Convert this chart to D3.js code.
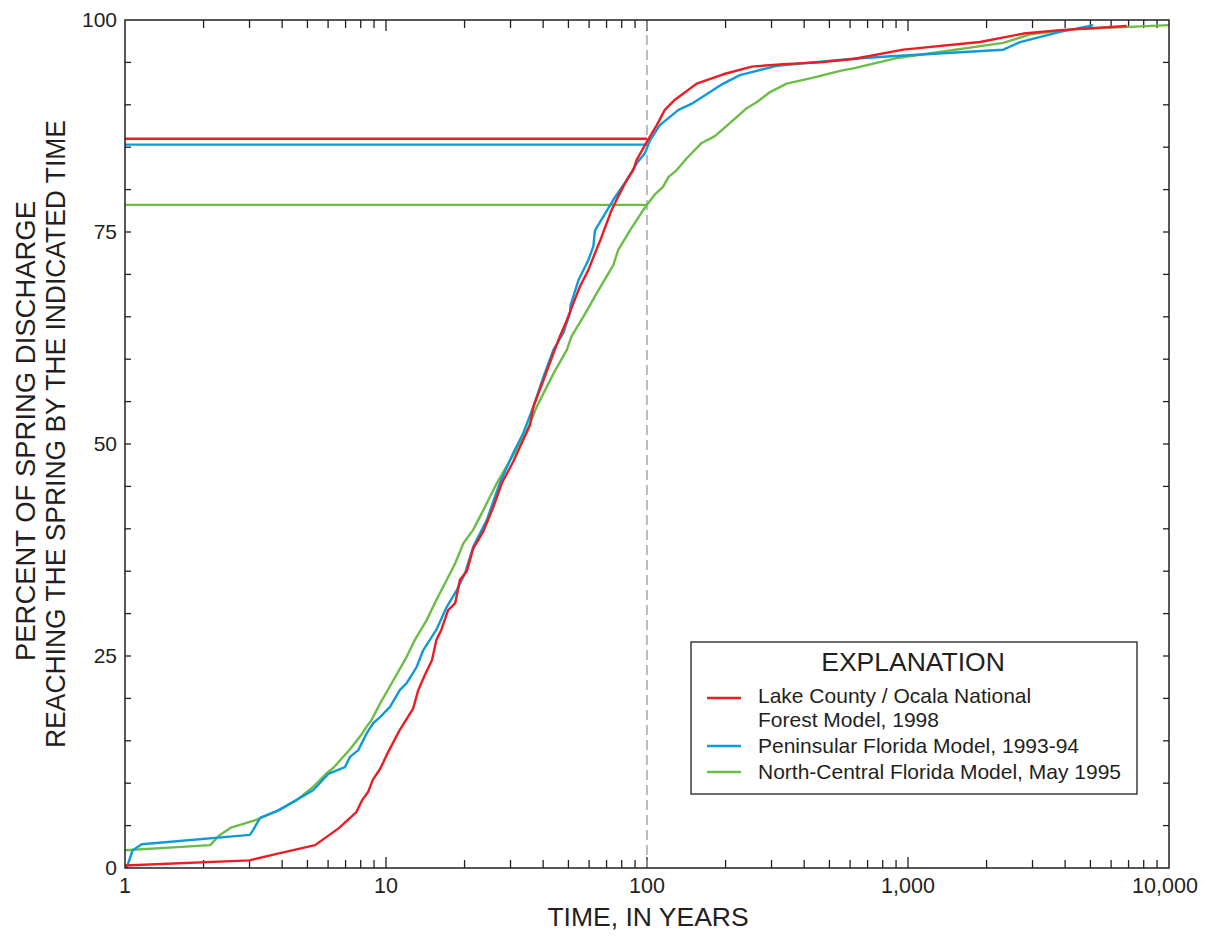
<!DOCTYPE html>
<html>
<head>
<meta charset="utf-8">
<script src="https://cdn.jsdelivr.net/npm/d3@7"></script>
<style>
  html, body { margin: 0; padding: 0; background: #fff; }
  svg { display: block; font-family: "Liberation Sans", Arial, sans-serif; }
</style>
</head>
<body>
<div id="chart"></div>
<script>
// Series values: [years, percent]
const lakeCounty = [
  [1, 0.3], [3.0, 0.9], [3.85, 1.7], [5.35, 2.7], [6.6, 4.7], [7.7, 6.6], [8.1, 8.0],
  [8.55, 9.0], [8.9, 10.4], [9.5, 11.7], [10.2, 13.7], [11.3, 16.3], [12.7, 18.8],
  [13.3, 21.0], [14.1, 22.8], [15.0, 24.5], [15.6, 26.9], [16.3, 28.1], [17.3, 30.4],
  [18.4, 31.2], [19.2, 34.0], [20.4, 35.0], [21.6, 37.7], [23.6, 39.7], [25.8, 42.6],
  [27.8, 45.4], [30.7, 47.9], [33.1, 50.1], [35.6, 52.2], [36.7, 54.4], [40.1, 57.5],
  [43.8, 60.7], [46.4, 62.7], [49.3, 64.6], [52.2, 66.6], [55.4, 68.6], [59.6, 70.5],
  [63.2, 72.5], [66.0, 73.9], [70.0, 76.0], [73.2, 77.6], [76.5, 78.8], [80, 80.0],
  [83.6, 81.1], [88.6, 82.3], [91.3, 83.5], [99.7, 85.6], [109, 87.6], [117, 89.4],
  [128, 90.6], [155, 92.5], [196, 93.6], [252, 94.5], [333, 94.8], [460, 95.0],
  [617, 95.4], [959, 96.5], [1888, 97.4], [2766, 98.4], [3823, 98.8], [6884, 99.3]
];

const peninsular = [
  [1.015, 0], [1.07, 2.1], [1.16, 2.8], [3.01, 3.9], [3.10, 4.5], [3.29, 5.9], [3.87, 6.8],
  [4.41, 7.8], [5.27, 9.2], [6.01, 11.1], [6.96, 11.9], [7.28, 13.1], [7.83, 13.9],
  [8.44, 15.9], [8.94, 17.1], [9.49, 17.8], [10.36, 19.0], [11.31, 21.0], [12.0, 21.8],
  [13.1, 23.7], [13.9, 25.7], [15.6, 28.1], [17.1, 30.8], [18.7, 32.8], [20.1, 34.8],
  [21.6, 37.9], [24.3, 41.0], [27.3, 45.4], [30.7, 48.9], [33.6, 51.3], [36.7, 54.4],
  [40.1, 57.9], [43.8, 61.1], [47.8, 63.1], [50.7, 65.4], [51.0, 66.4], [54.6, 69.3],
  [59.6, 71.7], [62.3, 73.3], [63.2, 75.2], [68.0, 76.8], [74.3, 78.8], [83.6, 81.1],
  [91.3, 83.1], [98.2, 84.3], [102.7, 85.8], [112, 87.6], [132, 89.4], [150, 90.2],
  [196, 92.5], [227, 93.5], [314, 94.6], [600, 95.4], [829, 95.7], [2318, 96.5],
  [2686, 97.4], [3823, 98.6], [5129, 99.4]
];

const northCentral = [
  [1, 2.1], [2.12, 2.7], [2.31, 3.9], [2.56, 4.8], [3.20, 5.7], [3.87, 6.8], [4.55, 8.0],
  [5.27, 9.6], [5.93, 11.2], [6.28, 11.8], [7.28, 14.0], [7.95, 15.5], [8.44, 16.7],
  [8.82, 17.5], [9.49, 19.4], [10.7, 22.2], [12.0, 24.9], [12.9, 26.9], [14.3, 29.2],
  [15.6, 31.6], [17.1, 34.0], [18.4, 35.9], [19.8, 38.3], [21.6, 39.9], [23.6, 42.2],
  [26.6, 45.4], [30.7, 48.7], [34.6, 51.5], [37.8, 54.4], [43.8, 58.3], [49.3, 61.1],
  [51.4, 62.7], [57.0, 65.0], [64.2, 67.8], [74.3, 71.1], [77.6, 72.9], [86.1, 75.2],
  [96.8, 77.6], [101, 78.4], [107, 79.4], [115, 80.3], [121, 81.5], [130, 82.3],
  [142, 83.7], [162, 85.5], [182, 86.3], [214, 88.2], [241, 89.6], [263, 90.3],
  [296, 91.5], [343, 92.5], [434, 93.2], [549, 94.0], [617, 94.3], [905, 95.5],
  [1112, 95.9], [2318, 97.3], [2935, 98.3], [4298, 98.9], [10000, 99.4]
];

// percent reaching the spring at 100 years, per model
const at100 = [86.0, 85.3, 78.2];

const seriesNames = [
  ["Lake County / Ocala National", "Forest Model, 1998"],
  ["Peninsular Florida Model, 1993-94"],
  ["North-Central Florida Model, May 1995"]
];
const seriesColors = ["#ec1c24", "#0f9ad8", "#6cbd45"];

const xTickValues = [1, 10, 100, 1000, 10000];
const xTickLabels = ["1", "10", "100", "1,000", "10,000"];
const yTickValues = [0, 25, 50, 75, 100];

const W = 1213, H = 936;
const pLeft = 125, pRight = 1169, pTop = 20, pBottom = 868;
const ink = "#231f20";

const svg = d3.select("#chart").append("svg")
  .attr("width", W).attr("height", H);

const x = d3.scaleLog().domain([1, 10000]).range([pLeft, pRight]);
const y = d3.scaleLinear().domain([0, 100]).range([pBottom, pTop]);

// minor ticks
const minorX = [];
for (let dec = 1; dec < 10000; dec *= 10) {
  for (let k = 2; k <= 9; k++) minorX.push(dec * k);
}
const minorY = d3.range(5, 100, 5);

const ticks = svg.append("g").attr("stroke", ink).attr("stroke-width", 1.3);
minorX.forEach(v => {
  ticks.append("line").attr("x1", x(v)).attr("x2", x(v)).attr("y1", pBottom).attr("y2", pBottom - 8);
  ticks.append("line").attr("x1", x(v)).attr("x2", x(v)).attr("y1", pTop).attr("y2", pTop + 8);
});
xTickValues.slice(1, -1).forEach(v => {
  ticks.append("line").attr("x1", x(v)).attr("x2", x(v)).attr("y1", pBottom).attr("y2", pBottom - 11);
  ticks.append("line").attr("x1", x(v)).attr("x2", x(v)).attr("y1", pTop).attr("y2", pTop + 11);
});
minorY.forEach(v => {
  ticks.append("line").attr("x1", pLeft).attr("x2", pLeft + 6).attr("y1", y(v)).attr("y2", y(v));
  ticks.append("line").attr("x1", pRight).attr("x2", pRight - 6).attr("y1", y(v)).attr("y2", y(v));
});

// tick labels
svg.append("g").selectAll("text").data(xTickValues).join("text")
  .attr("x", d => x(d) - (d === 10000 ? 4 : 0)).attr("y", 893)
  .attr("text-anchor", "middle")
  .attr("font-size", 21.5).attr("fill", ink)
  .text((d, i) => xTickLabels[i]);

svg.append("g").selectAll("text").data(yTickValues).join("text")
  .attr("x", 117).attr("y", d => y(d) + 7)
  .attr("text-anchor", "end")
  .attr("font-size", 21).attr("fill", ink)
  .text(d => d);

// dashed line at 100 years
svg.append("line")
  .attr("x1", x(100)).attr("x2", x(100))
  .attr("y1", pTop).attr("y2", pBottom)
  .attr("stroke", "#9a9a9a").attr("stroke-width", 1.3)
  .attr("stroke-dasharray", "10,5");

const line = d3.line().x(d => x(d[0])).y(d => y(d[1]));

// horizontal reference lines at the 100-year value
at100.forEach((v, i) => {
  svg.append("path")
    .datum([[1, v], [100, v]])
    .attr("d", line)
    .attr("fill", "none")
    .attr("stroke", seriesColors[i])
    .attr("stroke-width", 2.4);
});

[northCentral, peninsular, lakeCounty].forEach((s, j) => {
  const i = 2 - j;
  svg.append("path")
    .datum(s)
    .attr("d", line)
    .attr("fill", "none")
    .attr("stroke", seriesColors[i])
    .attr("stroke-width", 2.4)
    .attr("stroke-linejoin", "round");
});

// frame
svg.append("rect")
  .attr("x", pLeft).attr("y", pTop)
  .attr("width", pRight - pLeft).attr("height", pBottom - pTop)
  .attr("fill", "none").attr("stroke", ink).attr("stroke-width", 1.5);

// axis titles
svg.append("text")
  .attr("x", 648).attr("y", 926)
  .attr("text-anchor", "middle")
  .attr("font-size", 26.5).attr("fill", ink)
  .text("TIME, IN YEARS");

const yt = svg.append("g").attr("fill", ink).attr("font-size", 28);
yt.append("text")
  .attr("transform", "translate(35,431) rotate(-90)")
  .attr("text-anchor", "middle")
  .attr("textLength", 460).attr("lengthAdjust", "spacingAndGlyphs")
  .text("PERCENT OF SPRING DISCHARGE");
yt.append("text")
  .attr("transform", "translate(65,434) rotate(-90)")
  .attr("text-anchor", "middle")
  .attr("textLength", 628).attr("lengthAdjust", "spacingAndGlyphs")
  .text("REACHING THE SPRING BY THE INDICATED TIME");

// legend
const lg = svg.append("g");
lg.append("rect")
  .attr("x", 691).attr("y", 642)
  .attr("width", 446).attr("height", 152)
  .attr("fill", "#fff").attr("stroke", ink).attr("stroke-width", 1.3);
lg.append("text")
  .attr("x", 913).attr("y", 671)
  .attr("text-anchor", "middle")
  .attr("font-size", 26.5).attr("fill", ink)
  .text("EXPLANATION");

const legendLineY = [698, 746, 772];
const legendTextY = [[703, 727], [753], [779]];
seriesNames.forEach((lines, i) => {
  lg.append("line")
    .attr("x1", 707).attr("x2", 741)
    .attr("y1", legendLineY[i]).attr("y2", legendLineY[i])
    .attr("stroke", seriesColors[i]).attr("stroke-width", 2.4);
  lines.forEach((t, k) => {
    lg.append("text")
      .attr("x", 758).attr("y", legendTextY[i][k])
      .attr("font-size", 21).attr("fill", ink)
      .text(t);
  });
});
</script>
</body>
</html>
